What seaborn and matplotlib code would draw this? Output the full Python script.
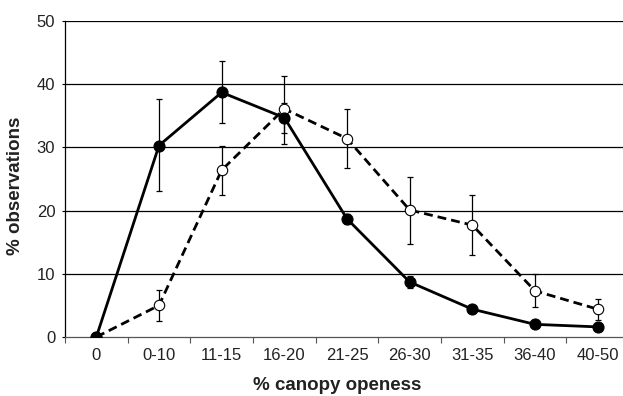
import matplotlib
matplotlib.use("Agg")
import matplotlib.pyplot as plt
import seaborn as sns
import numpy as np
import pandas as pd

categories = ["0", "0-10", "11-15", "16-20", "21-25", "26-30", "31-35", "36-40", "40-50"]
solid_vals = [0, 30.3, 38.7, 34.7, 18.7, 8.7, 4.4, 2.0, 1.6]
solid_lo = [0, 23.1, 33.8, 32.3, 17.9, 7.7, 4.4, 2.0, 1.6]
solid_hi = [0, 37.6, 43.6, 37.1, 19.5, 9.7, 4.4, 2.0, 1.6]
open_vals = [0, 5.0, 26.4, 36.1, 31.4, 20.1, 17.7, 7.3, 4.4]
open_lo = [0, 2.5, 22.4, 30.6, 26.8, 14.7, 12.9, 4.7, 2.7]
open_hi = [0, 7.5, 30.3, 41.3, 36.0, 25.3, 22.5, 10.0, 6.0]
yticks = [0, 10, 20, 30, 40, 50]

sns.set_theme(style="white")
plt.rcParams['font.family'] = ['Liberation Sans', 'DejaVu Sans']

df = pd.DataFrame({
    "pos": list(range(len(categories))) * 2,
    "value": solid_vals + open_vals,
    "series": ["solid"] * len(categories) + ["open"] * len(categories),
})

fig = plt.figure(figsize=(6.23, 3.96), dpi=100)
ax = fig.add_axes([65 / 623, 59 / 396, 564 / 623, 316 / 396])

for v in yticks[1:]:
    ax.axhline(v, color="black", lw=0.9, zorder=0)

x = np.arange(len(categories))
# error bars
ax.errorbar(x, open_vals,
            yerr=[np.array(open_vals) - np.array(open_lo), np.array(open_hi) - np.array(open_vals)],
            fmt="none", ecolor="black", elinewidth=0.9, capsize=2.5, capthick=0.9, zorder=2)
ax.errorbar(x, solid_vals,
            yerr=[np.array(solid_vals) - np.array(solid_lo), np.array(solid_hi) - np.array(solid_vals)],
            fmt="none", ecolor="black", elinewidth=0.9, capsize=2.5, capthick=0.9, zorder=2)

sns.lineplot(data=df[df.series == "open"], x="pos", y="value", ax=ax, color="black",
             lw=2.0, linestyle=(0, (3.2, 1.8)), marker="o", markersize=7.5,
             markerfacecolor="white", markeredgecolor="black", markeredgewidth=0.8, zorder=3)
sns.lineplot(data=df[df.series == "solid"], x="pos", y="value", ax=ax, color="black",
             lw=2.0, marker="o", markersize=8, markerfacecolor="black",
             markeredgecolor="black", zorder=4)

ax.set_xlim(-0.5, len(categories) - 0.5)
ax.set_ylim(0, 50)
ax.set_yticks(yticks)
ax.set_xticks(x)
ax.set_xticklabels(categories)
ax.set_xticks(np.arange(-0.5, len(categories), 1.0), minor=True)
ax.tick_params(axis="x", which="major", length=0, pad=8, labelsize=12, colors="#222222")
ax.tick_params(axis="x", which="minor", length=4, width=0.8, color="#555555", direction="out", bottom=True)
ax.tick_params(axis="y", length=2.5, width=0.8, direction="out", left=True, labelsize=12, pad=4.5,
               color="black", labelcolor="#222222")

for s in ["top", "right"]:
    ax.spines[s].set_visible(False)
ax.spines["left"].set_color("black")
ax.spines["left"].set_linewidth(0.9)
ax.spines["bottom"].set_color("#555555")
ax.spines["bottom"].set_linewidth(0.9)

ax.set_xlabel("% canopy openess", fontsize=13.5, fontweight="bold", color="#222222")
ax.set_ylabel("% observations", fontsize=13.5, fontweight="bold", color="#222222")
ax.xaxis.set_label_coords((337 - 65) / 564, (337 - 377) / 316)
ax.yaxis.set_label_coords((24 - 65) / 564, (337 - 186) / 316)

fig.savefig("out.png", dpi=100)
